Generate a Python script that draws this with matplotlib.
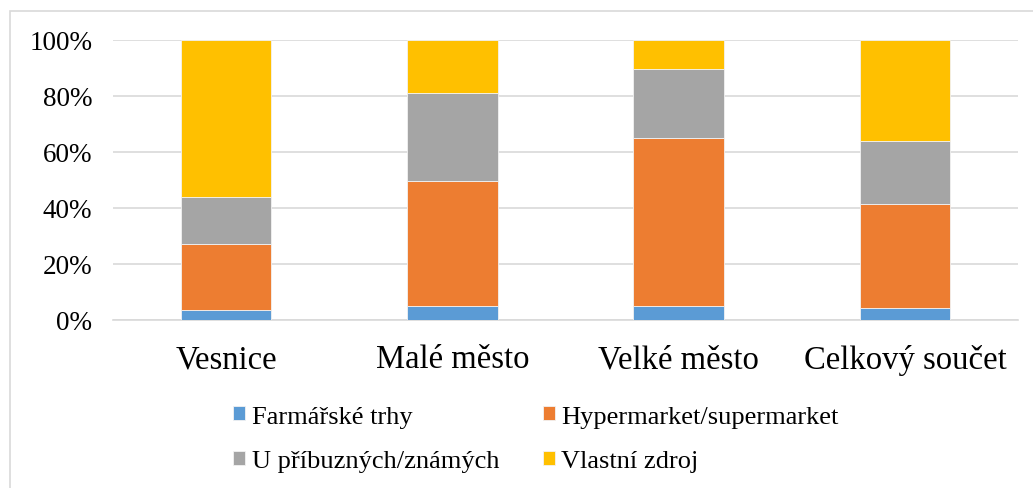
"""Stacked 100% bar chart: where households get their food, by settlement size."""

import matplotlib.pyplot as plt
import numpy as np
from matplotlib.patches import Rectangle
from matplotlib.ticker import PercentFormatter

plt.switch_backend("Agg")

CATEGORIES = ["Vesnice", "Malé město", "Velké město", "Celkový součet"]
SERIES_NAMES = [
    "Farmářské trhy",
    "Hypermarket/supermarket",
    "U příbuzných/známých",
    "Vlastní zdroj",
]
FARMERS_MARKET = [3.6, 4.9, 4.9, 4.3]
HYPERMARKET = [23.5, 44.9, 60.0, 37.0]
RELATIVES = [16.9, 31.4, 24.6, 22.7]
OWN_SOURCE = [56.0, 18.8, 10.5, 36.0]
Y_TICKS = [0, 20, 40, 60, 80, 100]

COLORS = ["#5B9BD5", "#ED7D31", "#A5A5A5", "#FFC000"]
GRID_COLOR = "#D9D9D9"
W, H = 1033, 489

plt.rcParams["font.family"] = ["Liberation Serif", "DejaVu Serif"]

fig = plt.figure(figsize=(W / 100, H / 100), dpi=100)
ax = fig.add_axes((113 / W, 1 - 321 / H, 905 / W, 280 / H))

x = np.arange(len(CATEGORIES))
bottom = np.zeros(len(CATEGORIES))
for name, values, color in zip(
    SERIES_NAMES, [FARMERS_MARKET, HYPERMARKET, RELATIVES, OWN_SOURCE], COLORS
):
    ax.bar(x, values, 0.4, bottom=bottom, color=color, label=name,
           edgecolor="#F2F2F2", linewidth=0.6, zorder=3)
    bottom += np.array(values)

ax.set_xlim(-0.5, len(CATEGORIES) - 0.5)
ax.set_ylim(0, 100)
ax.set_yticks(Y_TICKS)
ax.yaxis.set_major_formatter(PercentFormatter(decimals=0))
ax.grid(axis="y", color=GRID_COLOR, linewidth=1.2, zorder=0)
ax.set_xticks(x, CATEGORIES)
ax.tick_params(axis="y", length=0, pad=15, labelsize=19.5)
ax.tick_params(axis="x", length=0, pad=17, labelsize=23.5)
for side in ["top", "right", "left"]:
    ax.spines[side].set_visible(False)
ax.spines["bottom"].set_color(GRID_COLOR)
ax.spines["bottom"].set_linewidth(1.2)

# legend is filled row by row in the source, matplotlib fills by column
handles, labels = ax.get_legend_handles_labels()
order = [0, 2, 1, 3]
fig.legend(
    [handles[i] for i in order],
    [labels[i] for i in order],
    loc="center",
    bbox_to_anchor=(536 / W, 1 - 440 / H),
    ncol=2,
    frameon=False,
    fontsize=19,
    handlelength=0.45,
    handleheight=0.45,
    handletextpad=0.25,
    columnspacing=1.65,
    labelspacing=0.85,
)

# light chart-area border, cropped on the right and bottom like the source
fig.patches.append(
    Rectangle((10 / W, -0.1), 1.2, 1.1 - 12 / H, transform=fig.transFigure,
              fill=False, edgecolor=GRID_COLOR, linewidth=1.2)
)

fig.savefig("out.png", dpi=100)
